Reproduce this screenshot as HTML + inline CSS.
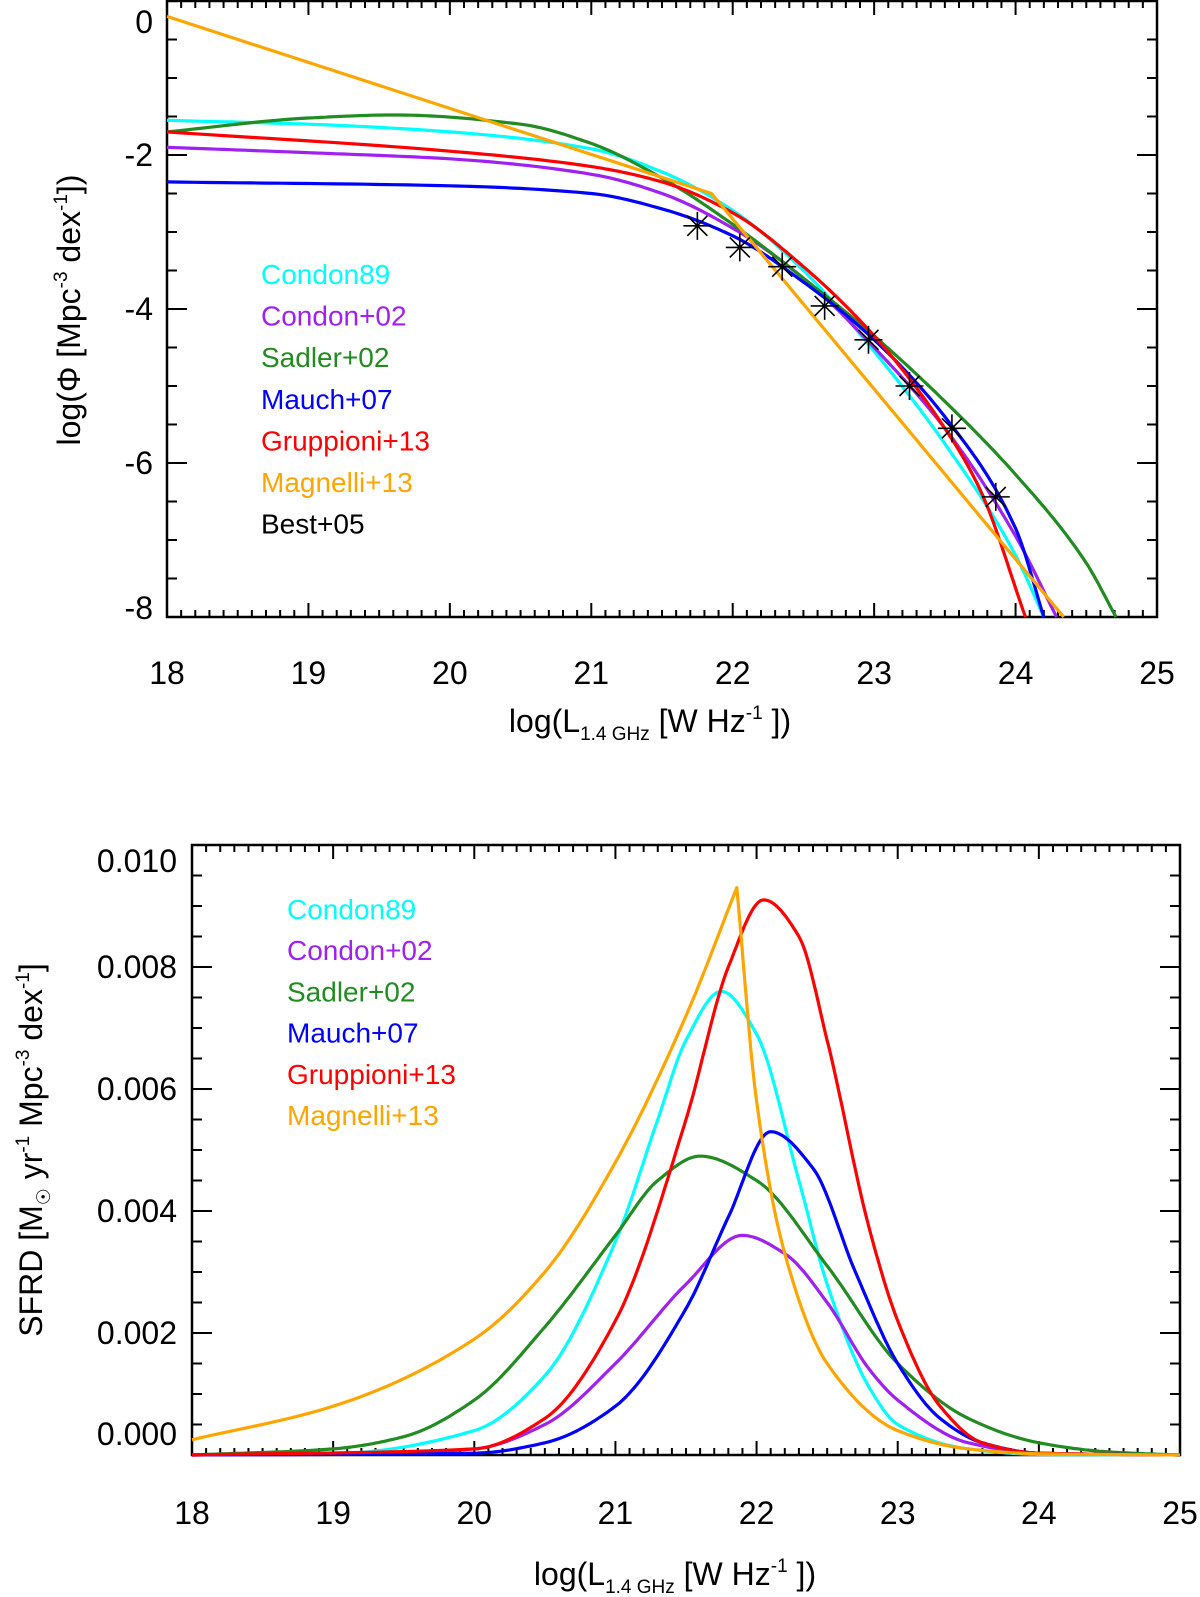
<!DOCTYPE html>
<html><head><meta charset="utf-8"><style>
html,body{margin:0;padding:0;background:#fff;}
svg{display:block;font-family:"Liberation Sans",sans-serif;}
</style></head><body>
<svg id="s" width="1200" height="1597" viewBox="0 0 1200 1597"></svg>
<script>
// ---------- data: top panel (luminosity function) ----------
const lfCondon89X = [18,19,20,21,21.5,22,22.5,23,23.5,24,24.2];
const lfCondon89Y = [-1.55,-1.6,-1.7,-1.92,-2.22,-2.72,-3.5,-4.55,-5.75,-7.2,-8];
const lfCondon02X = [18,19,20,21,21.5,22,22.5,23,23.5,24,24.29];
const lfCondon02Y = [-1.9,-1.97,-2.05,-2.25,-2.5,-2.95,-3.6,-4.5,-5.55,-6.95,-8];
const lfSadlerX = [18,19,19.6,20.5,21,21.5,22,22.5,23,23.5,24,24.5,24.71];
const lfSadlerY = [-1.7,-1.52,-1.48,-1.6,-1.85,-2.3,-2.9,-3.6,-4.35,-5.2,-6.15,-7.3,-8];
const lfMauchX = [18,20,21,21.5,22,22.5,23,23.5,24,24.2];
const lfMauchY = [-2.35,-2.4,-2.5,-2.7,-3.05,-3.65,-4.4,-5.4,-6.85,-8];
const lfGruppX = [18,20,21,21.5,22,22.5,23,23.5,23.75,24.07];
const lfGruppY = [-1.7,-1.95,-2.15,-2.35,-2.75,-3.45,-4.35,-5.55,-6.35,-8];
const lfMagX = [18,21.85,24.34];
const lfMagY = [-0.2,-2.5,-8];
const bestX = [21.75,22.05,22.35,22.65,22.96,23.25,23.55,23.86];
const bestY = [-2.92,-3.2,-3.45,-3.96,-4.4,-5.0,-5.55,-6.44];
const topXTicks = ["18","19","20","21","22","23","24","25"];
const topYTicks = ["0","-2","-4","-6","-8"];
// ---------- data: bottom panel (SFRD) ----------
const sfCondon89X = [18,19,20,20.5,21,21.3,21.5,21.75,22,22.3,22.5,22.8,23,23.5,24,25];
const sfCondon89Y = [0,0.00002,0.0004,0.0013,0.0035,0.0055,0.0068,0.0076,0.0069,0.0045,0.0028,0.0011,0.0005,0.0001,0.00001,0];
const sfCondon02X = [18,19,20,20.5,21,21.5,21.9,22.2,22.5,22.8,23,23.5,24,25];
const sfCondon02Y = [0,0.00001,0.0001,0.0005,0.0015,0.0028,0.0036,0.0033,0.0025,0.0014,0.0009,0.0002,0.00003,0];
const sfSadlerX = [18,19,19.5,20,20.5,21,21.3,21.6,22,22.5,23,23.5,24,24.5,25];
const sfSadlerY = [0,0.0001,0.0003,0.0009,0.0021,0.0036,0.0045,0.0049,0.0045,0.0031,0.0015,0.0006,0.0002,0.00005,0];
const sfMauchX = [18,20,20.5,21,21.5,21.8,22.1,22.4,22.7,23,23.3,23.6,24,25];
const sfMauchY = [0,0.00003,0.0002,0.0008,0.0024,0.0039,0.0053,0.0047,0.0030,0.0015,0.0006,0.0002,0.00003,0];
const sfGruppX = [18,20,20.5,21,21.5,21.8,22.05,22.3,22.5,22.8,23,23.3,23.6,24,25];
const sfGruppY = [0,0.0001,0.0006,0.0022,0.0055,0.0080,0.0091,0.0085,0.0068,0.0037,0.0022,0.0008,0.0002,0.00003,0];
const sfMagX = [18,19,20,20.5,21,21.5,21.86,22.0,22.2,22.5,23,23.5,24,25];
const sfMagY = [0.00025,0.0008,0.0019,0.003,0.0048,0.0072,0.0093,0.0058,0.0033,0.0015,0.0004,0.0001,0.00002,0];
const botXTicks = ["18","19","20","21","22","23","24","25"];
const botYTicks = ["0.000","0.002","0.004","0.006","0.008","0.010"];

const NS="http://www.w3.org/2000/svg";
const svg=document.getElementById('s');
function mk(tag,attrs,parent){const e=document.createElementNS(NS,tag);for(const k in attrs)e.setAttribute(k,attrs[k]);(parent||svg).appendChild(e);return e;}

const T={x0:167,x1:1157,y0:1,y1:617,xmin:18,xmax:25,ymin:-8,ymax:0};
const B={x0:192,x1:1180,y0:845,y1:1455,xmin:18,xmax:25,ymin:0,ymax:0.01};
function sx(P,v){return P.x0+(v-P.xmin)/(P.xmax-P.xmin)*(P.x1-P.x0);}
function sy(P,v){return P.y1-(v-P.ymin)/(P.ymax-P.ymin)*(P.y1-P.y0);}

function monotone(xs,ys,n){
  const k=xs.length,d=[],m=[];
  for(let i=0;i<k-1;i++)d.push((ys[i+1]-ys[i])/(xs[i+1]-xs[i]));
  m[0]=d[0];m[k-1]=d[k-2];
  for(let i=1;i<k-1;i++){
    if(d[i-1]*d[i]<=0)m[i]=0;
    else{const h0=xs[i]-xs[i-1],h1=xs[i+1]-xs[i];const w1=2*h1+h0,w2=h1+2*h0;m[i]=(w1+w2)/(w1/d[i-1]+w2/d[i]);}
  }
  const out=[];
  for(let i=0;i<k-1;i++){
    const h=xs[i+1]-xs[i];
    for(let j=0;j<n;j++){
      const t=j/n,t2=t*t,t3=t2*t;
      const y=(2*t3-3*t2+1)*ys[i]+(t3-2*t2+t)*h*m[i]+(-2*t3+3*t2)*ys[i+1]+(t3-t2)*h*m[i+1];
      out.push([xs[i]+t*h,y]);
    }
  }
  out.push([xs[k-1],ys[k-1]]);
  return out;
}
function pathFrom(P,pts){return 'M'+pts.map(p=>sx(P,p[0]).toFixed(1)+','+sy(P,p[1]).toFixed(1)).join(' L');}

function frame(P,name,minorX,majorX,minorY,majorY){
  const g=mk('g',{});
  
  
  let d='';
  for(let v=P.xmin;v<=P.xmax+1e-9;v+=minorX){
    const x=sx(P,v);const maj=Math.abs(v/majorX-Math.round(v/majorX))<1e-6;const L=maj?14:7;
    d+=`M${x},${P.y1}v${-L}M${x},${P.y0}v${L}`;
  }
  for(let v=P.ymin;v<=P.ymax+1e-12;v+=minorY){
    const y=sy(P,v);const maj=Math.abs(v/majorY-Math.round(v/majorY))<1e-6;const L=maj?20:10;
    d+=`M${P.x0},${y}h${L}M${P.x1},${y}h${-L}`;
  }
  mk('path',{d:d,stroke:'#000','stroke-width':2,fill:'none'},g);
  mk('rect',{x:P.x0,y:P.y0,width:P.x1-P.x0,height:P.y1-P.y0,fill:'none',stroke:'#000','stroke-width':2.5},g);
}

function curve(P,xs,ys,color,name,mode,kink){
  let pts;
  if(mode==='linear') pts=xs.map((x,i)=>[x,ys[i]]);
  else if(kink!==undefined){
    const a=monotone(xs.slice(0,kink+1),ys.slice(0,kink+1),20);
    const b=monotone(xs.slice(kink),ys.slice(kink),20);
    pts=a.concat(b.slice(1));
  } else pts=monotone(xs,ys,20);
  const p=mk('path',{d:pathFrom(P,pts),stroke:color,'stroke-width':3.2,fill:'none','stroke-linejoin':'round'});
  
  
}
function text(x,y,s,attrs,name){
  const t=mk('text',Object.assign({x:x,y:y},attrs));t.textContent=s;
  
  
  return t;
}

// ----- top panel -----
frame(T,'top',0.1,1,0.5,2);
topXTicks.forEach(s=>text(sx(T,+s),684,s,{'font-size':32,'text-anchor':'middle'},'top-x-tick-label'));
topYTicks.forEach(s=>{let y=sy(T,+s)+11;if(s==='0')y=33;if(s==='-8')y=619;text(153,y,s,{'font-size':32,'text-anchor':'end'},'top-y-tick-label');});
curve(T,lfCondon89X,lfCondon89Y,'#00ffff','lf-condon89');
curve(T,lfCondon02X,lfCondon02Y,'#a020f0','lf-condon02');
curve(T,lfSadlerX,lfSadlerY,'#228b22','lf-sadler02');
curve(T,lfMauchX,lfMauchY,'#0000ff','lf-mauch07');
curve(T,lfGruppX,lfGruppY,'#ff0000','lf-gruppioni13');
curve(T,lfMagX,lfMagY,'#ffa500','lf-magnelli13','linear');
bestX.forEach((x,i)=>{
  const cx=sx(T,x),cy=sy(T,bestY[i]),r=14,r2=10;
  const p=mk('path',{d:`M${cx-r},${cy}h${2*r}M${cx},${cy-r}v${2*r}M${cx-r2},${cy-r2}l${2*r2},${2*r2}M${cx-r2},${cy+r2}l${2*r2},${-2*r2}`,stroke:'#000','stroke-width':1.6,fill:'none'});
  
  
});
const legT=[['Condon89','#00ffff'],['Condon+02','#a020f0'],['Sadler+02','#228b22'],['Mauch+07','#0000ff'],['Gruppioni+13','#ff0000'],['Magnelli+13','#ffa500'],['Best+05','#000']];
legT.forEach((l,i)=>text(261,284+i*41.6,l[0],{'font-size':28,fill:l[1]},'top-legend-entry'));
const xtT=text(650,732,'',{'font-size':32,'text-anchor':'middle'},'top-x-axis-title');
xtT.innerHTML='log(L<tspan font-size="19" dy="8">1.4 GHz</tspan><tspan dy="-8"> [W Hz</tspan><tspan font-size="19" dy="-13">-1</tspan><tspan dy="13"> ])</tspan>';
const ytT=text(0,0,'',{'font-size':32,'text-anchor':'middle',transform:'translate(80,310) rotate(-90)'},'top-y-axis-title');
ytT.innerHTML='log(Φ [Mpc<tspan font-size="19" dy="-13">-3</tspan><tspan dy="13"> dex</tspan><tspan font-size="19" dy="-13">-1</tspan><tspan dy="13">])</tspan>';

// ----- bottom panel -----
frame(B,'bottom',0.1,1,0.0005,0.002);
botXTicks.forEach(s=>text(sx(B,+s),1524,s,{'font-size':32,'text-anchor':'middle'},'bottom-x-tick-label'));
botYTicks.forEach(s=>{let y=sy(B,+s)+11;if(s==='0.000')y=1445;if(s==='0.010')y=872;text(177,y,s,{'font-size':32,'text-anchor':'end'},'bottom-y-tick-label');});
curve(B,sfCondon89X,sfCondon89Y,'#00ffff','sfrd-condon89');
curve(B,sfCondon02X,sfCondon02Y,'#a020f0','sfrd-condon02');
curve(B,sfSadlerX,sfSadlerY,'#228b22','sfrd-sadler02');
curve(B,sfMauchX,sfMauchY,'#0000ff','sfrd-mauch07');
curve(B,sfGruppX,sfGruppY,'#ff0000','sfrd-gruppioni13');
curve(B,sfMagX,sfMagY,'#ffa500','sfrd-magnelli13',null,6);
legT.slice(0,6).forEach((l,i)=>text(287,919+i*41.2,l[0],{'font-size':28,fill:l[1]},'bottom-legend-entry'));
const xtB=text(675,1585,'',{'font-size':32,'text-anchor':'middle'},'bottom-x-axis-title');
xtB.innerHTML='log(L<tspan font-size="19" dy="8">1.4 GHz</tspan><tspan dy="-8"> [W Hz</tspan><tspan font-size="19" dy="-13">-1</tspan><tspan dy="13"> ])</tspan>';
const ytB=text(0,0,'',{'font-size':32,'text-anchor':'middle',transform:'translate(42,1150) rotate(-90)'},'bottom-y-axis-title');
ytB.innerHTML='SFRD [M<tspan font-size="19" dy="8">☉</tspan><tspan dy="-8"> yr</tspan><tspan font-size="19" dy="-13">-1</tspan><tspan dy="13"> Mpc</tspan><tspan font-size="19" dy="-13">-3</tspan><tspan dy="13"> dex</tspan><tspan font-size="19" dy="-13">-1</tspan><tspan dy="13">]</tspan>';
</script>
</body></html>
